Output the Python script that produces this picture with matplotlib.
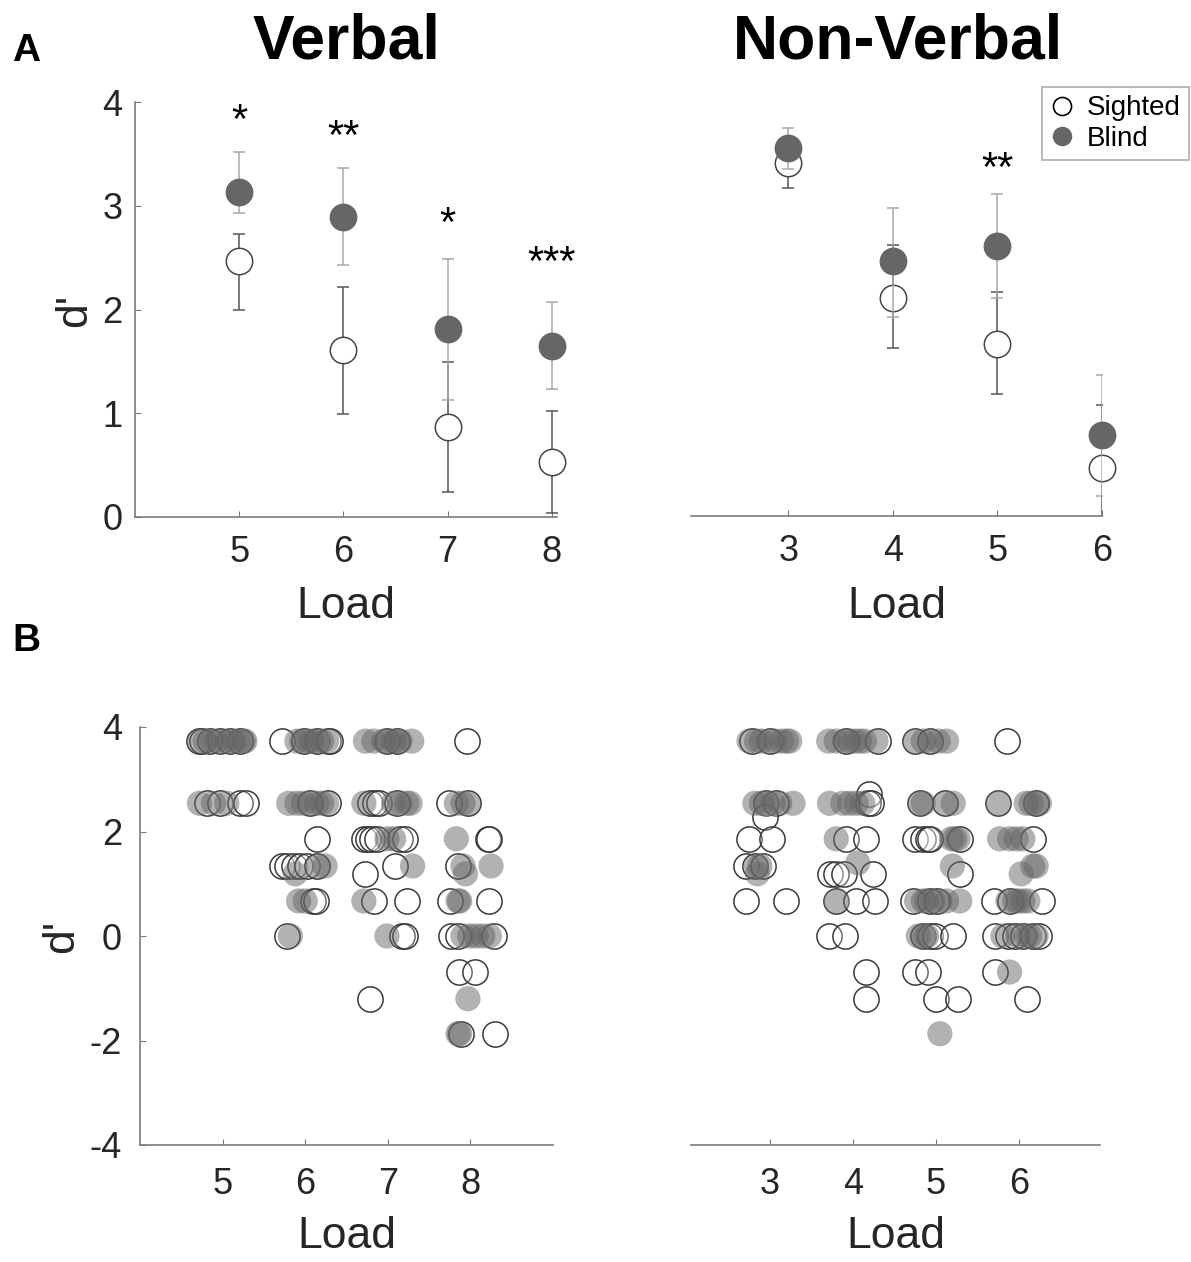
import matplotlib
matplotlib.use("Agg")
import matplotlib.pyplot as plt
from matplotlib.lines import Line2D

plt.rcParams['font.family'] = ['Liberation Sans', 'DejaVu Sans']

# ---- panel A: group means, error bar ends ----
verbal_loads = [5, 6, 7, 8]
verbal_sighted_mean = [2.47, 1.61, 0.87, 0.53]
verbal_sighted_lo = [2.00, 0.99, 0.24, 0.04]
verbal_sighted_hi = [2.73, 2.22, 1.49, 1.02]
verbal_blind_mean = [3.13, 2.89, 1.81, 1.65]
verbal_blind_lo = [2.93, 2.43, 1.13, 1.23]
verbal_blind_hi = [3.52, 3.36, 2.49, 2.07]
verbal_stars = ["*", "**", "*", "***"]
verbal_star_y = [3.89, 3.74, 2.90, 2.52]

nonverbal_loads = [3, 4, 5, 6]
nonverbal_sighted_mean = [3.41, 2.11, 1.66, 0.46]
nonverbal_sighted_lo = [3.17, 1.62, 1.18, -0.15]
nonverbal_sighted_hi = [3.60, 2.62, 2.16, 1.07]
nonverbal_blind_mean = [3.56, 2.46, 2.61, 0.78]
nonverbal_blind_lo = [3.35, 1.92, 2.11, 0.19]
nonverbal_blind_hi = [3.75, 2.98, 3.11, 1.36]
nonverbal_stars = ["", "", "**", ""]
nonverbal_star_y = [0, 0, 3.43, 0]

# ---- panel B: individual subjects (d', jitter offset from load) ----
verbal_sighted_pts = {
    5: [(3.73, -0.29), (3.73, -0.25), (3.73, -0.15), (3.73, -0.03), (3.73, 0.09), (3.73, 0.21),
        (2.54, -0.19), (2.54, -0.03), (2.54, 0.21), (2.54, 0.28)],
    6: [(3.73, -0.28), (3.73, -0.02), (3.73, 0.14), (3.73, 0.28), (3.73, 0.30),
        (2.54, 0.28), (2.54, 0.06), (1.86, 0.14),
        (1.34, -0.28), (1.34, -0.22), (1.34, -0.14), (1.34, -0.06), (1.34, 0.02), (1.34, 0.14),
        (0.67, 0.10), (0.67, 0.13), (0.0, -0.22)],
    7: [(3.73, -0.01), (3.73, 0.11),
        (2.54, -0.21), (2.54, -0.15), (2.54, -0.11), (2.54, 0.11),
        (1.86, -0.29), (1.86, -0.24), (1.86, -0.19), (1.86, -0.13), (1.86, 0.15), (1.86, 0.21),
        (1.34, 0.09), (1.19, -0.27), (0.67, -0.17), (0.67, 0.23),
        (0.0, 0.17), (0.0, 0.21), (-1.20, -0.22)],
    8: [(3.73, -0.04), (2.54, -0.26), (2.54, -0.03), (1.86, 0.21), (1.86, 0.23),
        (1.34, -0.15), (0.67, -0.25), (0.67, 0.23),
        (0.0, -0.23), (0.0, -0.15), (0.0, 0.29),
        (-0.69, -0.14), (-0.69, 0.06), (-1.87, -0.11), (-1.87, 0.30)],
}
verbal_blind_pts = {
    5: [(3.73, -0.27), (3.73, -0.21), (3.73, -0.13), (3.73, -0.07), (3.73, 0.01), (3.73, 0.07),
        (3.73, 0.13), (3.73, 0.19), (3.73, 0.25), (3.73, 0.27),
        (2.54, -0.28), (2.54, -0.11), (2.54, 0.05)],
    6: [(3.73, -0.10), (3.73, -0.04), (3.73, 0.02), (3.73, 0.08), (3.73, 0.14), (3.73, 0.20), (3.73, 0.26),
        (2.54, -0.20), (2.54, -0.10), (2.54, -0.02), (2.54, 0.06), (2.54, 0.14), (2.54, 0.20), (2.54, 0.26),
        (1.34, 0.16), (1.34, 0.24), (1.19, -0.12), (0.67, -0.08), (0.67, 0.0), (0.0, -0.18)],
    7: [(3.73, -0.27), (3.73, -0.17), (3.73, -0.05), (3.73, -0.01), (3.73, 0.07), (3.73, 0.11),
        (3.73, 0.15), (3.73, 0.29),
        (2.54, -0.29), (2.54, 0.07), (2.54, 0.15), (2.54, 0.23), (2.54, 0.27),
        (1.86, -0.01), (1.86, 0.07), (1.34, 0.30), (0.67, -0.29), (0.0, -0.01)],
    8: [(2.54, -0.17), (2.54, -0.09), (2.54, -0.03), (1.86, -0.17),
        (1.34, -0.09), (1.34, 0.25), (1.19, -0.06), (0.67, -0.15), (0.67, -0.13),
        (0.0, -0.09), (0.0, -0.01), (0.0, 0.07), (0.0, 0.15), (0.0, 0.23),
        (-1.20, -0.03), (-1.87, -0.15), (-1.87, -0.13)],
}
nonverbal_sighted_pts = {
    3: [(3.73, -0.22), (3.73, 0.0), (2.54, -0.04), (2.54, 0.08), (2.28, -0.06),
        (1.86, -0.25), (1.86, 0.03), (1.34, -0.29), (1.34, -0.18), (1.34, -0.08),
        (0.67, -0.29), (0.67, 0.20)],
    4: [(3.73, -0.08), (3.73, 0.30), (2.72, 0.20), (2.54, 0.18), (2.54, 0.22),
        (1.86, -0.08), (1.86, 0.16), (1.19, -0.27), (1.19, -0.20), (1.19, -0.11), (1.19, 0.24),
        (0.67, -0.20), (0.67, 0.04), (0.67, 0.27), (0.0, -0.29), (0.0, -0.09),
        (-0.69, 0.16), (-1.20, 0.16)],
    5: [(3.73, -0.25), (3.73, -0.07), (2.54, -0.19), (2.54, 0.11),
        (1.86, -0.25), (1.86, -0.15), (1.86, -0.09), (1.86, -0.07), (1.86, 0.29), (1.19, 0.29),
        (0.67, -0.27), (0.67, -0.07), (0.67, 0.01),
        (0.0, -0.15), (0.0, -0.07), (0.0, -0.01), (0.0, 0.21),
        (-0.69, -0.25), (-0.69, -0.09), (-1.20, 0.0), (-1.20, 0.27)],
    6: [(3.73, -0.14), (2.54, -0.25), (2.54, 0.21), (1.86, 0.17),
        (0.67, -0.30), (0.67, -0.11), (0.67, 0.28),
        (0.0, -0.28), (0.0, -0.13), (0.0, -0.05), (0.0, 0.05), (0.0, 0.17), (0.0, 0.25),
        (-0.69, -0.28), (-1.20, 0.10)],
}
nonverbal_blind_pts = {
    3: [(3.73, -0.25), (3.73, -0.16), (3.73, -0.10), (3.73, -0.02), (3.73, 0.06), (3.73, 0.14),
        (3.73, 0.20), (3.73, 0.24),
        (2.54, -0.18), (2.54, -0.10), (2.54, -0.04), (2.54, 0.04), (2.54, 0.12), (2.54, 0.28),
        (1.34, -0.16), (1.34, -0.12), (1.19, -0.15)],
    4: [(3.73, -0.29), (3.73, -0.20), (3.73, -0.10), (3.73, -0.04), (3.73, 0.02), (3.73, 0.08),
        (3.73, 0.14), (3.73, 0.28),
        (2.54, -0.28), (2.54, -0.12), (2.54, -0.04), (2.54, 0.04), (2.54, 0.12),
        (1.86, -0.20), (1.40, 0.06), (0.67, -0.20)],
    5: [(3.73, -0.25), (3.73, -0.15), (3.73, -0.05), (3.73, 0.03), (3.73, 0.13),
        (2.54, -0.19), (2.54, -0.15), (2.54, 0.13), (2.54, 0.21),
        (1.86, 0.19), (1.86, 0.23), (1.86, 0.27), (1.34, 0.20),
        (0.67, -0.23), (0.67, -0.15), (0.67, -0.11), (0.67, -0.03), (0.67, 0.05), (0.67, 0.13), (0.67, 0.29),
        (0.0, -0.21), (0.0, -0.15), (0.0, -0.11), (-1.87, 0.05)],
    6: [(2.54, -0.25), (2.54, 0.09), (2.54, 0.15), (2.54, 0.21), (2.54, 0.25),
        (1.86, -0.23), (1.86, -0.11), (1.86, -0.03), (1.86, 0.05),
        (1.34, 0.17), (1.34, 0.21), (1.19, 0.03),
        (0.67, -0.13), (0.67, -0.05), (0.67, -0.01), (0.67, 0.05), (0.67, 0.11),
        (0.0, -0.19), (0.0, -0.01), (0.0, 0.09), (0.0, 0.13), (0.0, 0.21),
        (-0.69, -0.11)],
}

W, H = 1191, 1262
fig = plt.figure(figsize=(W / 100, H / 100), dpi=100)

def px_axes(x0, y0, x1, y1):
    # pixel box (left, top, right, bottom) -> figure fraction axes
    return fig.add_axes([x0 / W, 1 - y1 / H, (x1 - x0) / W, (y1 - y0) / H])

SPINE = "#7a7a7a"
TXT = "#262626"
BLIND = "#666666"
SIGHT_EDGE = "#444444"

def style(ax, show_y, ypad, xpad, fs):
    for s in ["top", "right"]:
        ax.spines[s].set_visible(False)
    ax.spines["bottom"].set_color(SPINE)
    ax.spines["left"].set_color(SPINE)
    ax.spines["bottom"].set_linewidth(1.2)
    ax.spines["left"].set_linewidth(1.2)
    ax.tick_params(direction="in", length=4, width=0.8, color=SPINE,
                   labelsize=fs, labelcolor=TXT)
    ax.tick_params(axis="x", pad=xpad)
    ax.tick_params(axis="y", pad=ypad)
    if not show_y:
        ax.spines["left"].set_visible(False)
        ax.tick_params(axis="y", left=False, labelleft=False)

def means_panel(ax, loads, s_m, s_lo, s_hi, b_m, b_lo, b_hi, stars, star_y):
    s_err = [[m - l for m, l in zip(s_m, s_lo)], [h - m for m, h in zip(s_m, s_hi)]]
    b_err = [[m - l for m, l in zip(b_m, b_lo)], [h - m for m, h in zip(b_m, b_hi)]]
    ax.errorbar(loads, s_m, yerr=s_err, fmt="none", ecolor="#555555", elinewidth=1.1,
                capsize=4.5, capthick=1.1, zorder=2)
    ax.plot(loads, s_m, "o", ms=19, mfc="white", mec=SIGHT_EDGE, mew=1.1, ls="none",
            zorder=3, clip_on=False)
    ax.errorbar(loads, b_m, yerr=b_err, fmt="none", ecolor="#a8a8a8", elinewidth=1.1,
                capsize=4.5, capthick=1.1, zorder=4)
    ax.plot(loads, b_m, "o", ms=19, mfc=BLIND, mec=BLIND, ls="none", zorder=5, clip_on=False)
    for x, s, y in zip(loads, stars, star_y):
        if s:
            # asterisk glyph sits high in the em box: anchor on baseline below its centre
            ax.text(x, y - 0.19, s, ha="center", va="baseline", fontsize=30, color="black")
    ax.set_xticks(loads)

def subject_panel(ax, loads, s_pts, b_pts):
    for load in loads:
        sx = [load + o for d, o in s_pts[load]]
        sy = [d for d, o in s_pts[load]]
        bx = [load + o for d, o in b_pts[load]]
        by = [d for d, o in b_pts[load]]
        ax.scatter(sx, sy, s=330, facecolors=(1, 1, 1, 0.25), edgecolors="#3a3a3a",
                   linewidths=1.1, zorder=2, clip_on=False)
        ax.scatter(bx, by, s=330, facecolors=BLIND, edgecolors="none", alpha=0.5,
                   zorder=3, clip_on=False)
    ax.set_xticks(loads)

# --- A, verbal
ax1 = px_axes(135, 102, 557, 517)
means_panel(ax1, verbal_loads, verbal_sighted_mean, verbal_sighted_lo, verbal_sighted_hi,
            verbal_blind_mean, verbal_blind_lo, verbal_blind_hi, verbal_stars, verbal_star_y)
ax1.set_xlim(4.0, 8.05)
ax1.set_ylim(0, 4)
ax1.set_yticks([0, 1, 2, 3, 4])
style(ax1, True, 9, 13, 26)

# --- A, non-verbal
ax2 = px_axes(691, 102, 1102, 516)
means_panel(ax2, nonverbal_loads, nonverbal_sighted_mean, nonverbal_sighted_lo, nonverbal_sighted_hi,
            nonverbal_blind_mean, nonverbal_blind_lo, nonverbal_blind_hi, nonverbal_stars, nonverbal_star_y)
ax2.set_xlim(2.07, 6.0)
ax2.set_ylim(0, 4)
style(ax2, False, 9, 13, 26)

# --- B, verbal
ax3 = px_axes(140, 727, 553, 1145)
subject_panel(ax3, verbal_loads, verbal_sighted_pts, verbal_blind_pts)
ax3.set_xlim(4, 9)
ax3.set_ylim(-4, 4)
ax3.set_yticks([-4, -2, 0, 2, 4])
ax3.set_yticklabels(["-4", "-2", "0", "2", "4"])
style(ax3, True, 13, 16, 26)

# --- B, non-verbal
ax4 = px_axes(691, 727, 1100, 1145)
subject_panel(ax4, nonverbal_loads, nonverbal_sighted_pts, nonverbal_blind_pts)
ax4.set_xlim(2.05, 6.98)
ax4.set_ylim(-4, 4)
style(ax4, False, 13, 16, 26)

# labels
for ax, yc in [(ax1, 607), (ax2, 607), (ax3, 1237), (ax4, 1237)]:
    bb = ax.get_position()
    xc = (bb.x0 + bb.x1) / 2
    fig.text(xc, 1 - yc / H, "Load", ha="center", va="center", fontsize=32, color=TXT)
fig.text(75 / W, 1 - 310 / H, "d'", ha="center", va="center", rotation=90, fontsize=32, color=TXT)
fig.text(62 / W, 1 - 936 / H, "d'", ha="center", va="center", rotation=90, fontsize=32, color=TXT)

fig.text(346 / W, 1 - 42 / H, "Verbal", ha="center", va="center", fontsize=45,
         fontweight="bold", color="black")
fig.text(898 / W, 1 - 42 / H, "Non-Verbal", ha="center", va="center", fontsize=45,
         fontweight="bold", color="black")
fig.text(12 / W, 1 - 51 / H, "A", ha="left", va="center", fontsize=28, fontweight="bold")
fig.text(12 / W, 1 - 641 / H, "B", ha="left", va="center", fontsize=28, fontweight="bold")

handles = [
    Line2D([], [], marker="o", ls="none", ms=13, mfc="white", mec="black", mew=1.2, label="Sighted"),
    Line2D([], [], marker="o", ls="none", ms=13, mfc=BLIND, mec=BLIND, label="Blind"),
]
leg = fig.legend(handles=handles, loc="upper right", bbox_to_anchor=(1189 / W, 1 - 87 / H),
                 fontsize=20, frameon=True, fancybox=False, handlelength=0.8,
                 handletextpad=0.5, borderpad=0.3, labelspacing=0.15, borderaxespad=0)
leg.get_frame().set_edgecolor("#9a9a9a")
leg.get_frame().set_linewidth(1.2)

fig.savefig("out.png", dpi=100)
